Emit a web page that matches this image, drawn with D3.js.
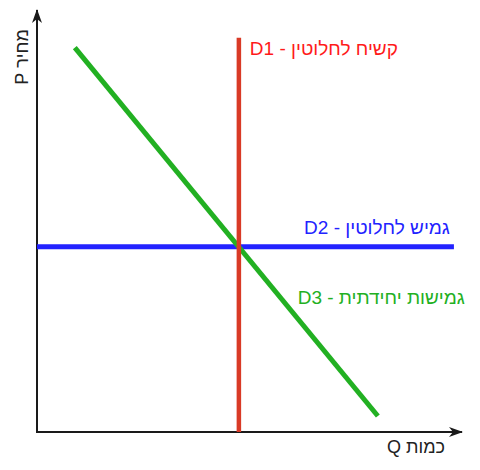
<!DOCTYPE html>
<html>
<head>
<meta charset="utf-8">
<script src="https://cdn.jsdelivr.net/npm/d3@7"></script>
<style>
  body { margin: 0; background: #fff; }
  text { font-family: "Liberation Sans", Arial, sans-serif; }
</style>
</head>
<body>
<div id="chart"></div>
<script>
let width = 480;
let height = 470;

// Curves, in quantity / price units (axis domain 0..100)
let curveNames = ["D1", "D2", "D3"];
let curveLabels = ["קשיח לחלוטין - D1", "גמיש לחלוטין - D2", "גמישות יחידתית - D3"];
let curveColors = ["#d93a26", "#2222ff", "#22b022"];
let curveQ = [[47.5, 47.5], [0, 98.1], [8.9, 80.2]];
let curveP = [[0, 93.4], [43.9, 43.9], [91.1, 3.8]];
// label anchor points (Q, P)
let labelQ = [67.5, 80, 81];
let labelP = [89.3, 47, 30.3];

let axisLabels = ["כמות Q", "מחיר P"];

let x = d3.scaleLinear().domain([0, 100]).range([37, 462]);
let y = d3.scaleLinear().domain([0, 100]).range([432, 10]);

let svg = d3.select("#chart").append("svg")
    .attr("width", width)
    .attr("height", height);

svg.append("defs").append("marker")
    .attr("id", "arrow")
    .attr("viewBox", "0 0 14 10")
    .attr("refX", 13)
    .attr("refY", 5)
    .attr("markerWidth", 14)
    .attr("markerHeight", 10)
    .attr("markerUnits", "userSpaceOnUse")
    .attr("orient", "auto")
    .append("path")
    .attr("d", "M0,0 L14,5 L0,10 L4,5 Z")
    .attr("fill", "#1a1a1a");

// axes
svg.append("line")
    .attr("x1", x(0)).attr("y1", y(0))
    .attr("x2", x(100)).attr("y2", y(0))
    .attr("stroke", "#1a1a1a").attr("stroke-width", 2)
    .attr("marker-end", "url(#arrow)");
svg.append("line")
    .attr("x1", x(0)).attr("y1", y(0) + 1)
    .attr("x2", x(0)).attr("y2", y(100))
    .attr("stroke", "#1a1a1a").attr("stroke-width", 2)
    .attr("marker-end", "url(#arrow)");

let line = d3.line().x(d => x(d[0])).y(d => y(d[1]));

let curves = curveNames.map((n, i) => ({
    name: n,
    pts: [[curveQ[i][0], curveP[i][0]], [curveQ[i][1], curveP[i][1]]],
    color: curveColors[i],
    label: curveLabels[i],
    lq: labelQ[i],
    lp: labelP[i]
}));

// draw D1 last so it sits on top like the reference
svg.selectAll(".curve")
    .data([curves[1], curves[2], curves[0]])
    .enter().append("path")
    .attr("class", "curve")
    .attr("d", d => line(d.pts))
    .attr("fill", "none")
    .attr("stroke", d => d.color)
    .attr("stroke-width", d => d.name === "D1" ? 4.5 : 5);

svg.selectAll(".clabel")
    .data(curves)
    .enter().append("text")
    .attr("class", "clabel")
    .attr("x", d => x(d.lq))
    .attr("y", d => y(d.lp))
    .attr("direction", "rtl")
    .attr("text-anchor", "middle")
    .attr("font-size", 19)
    .attr("fill", d => d.name === "D1" ? "#ff1a1a" : d.color)
    .text(d => d.label);

svg.append("text")
    .attr("x", 416)
    .attr("y", 453)
    .attr("direction", "rtl")
    .attr("text-anchor", "middle")
    .attr("font-size", 18)
    .attr("fill", "#222")
    .text(axisLabels[0]);

svg.append("text")
    .attr("transform", "translate(28,57) rotate(-90)")
    .attr("direction", "rtl")
    .attr("text-anchor", "middle")
    .attr("font-size", 18)
    .attr("fill", "#222")
    .text(axisLabels[1]);
</script>
</body>
</html>
